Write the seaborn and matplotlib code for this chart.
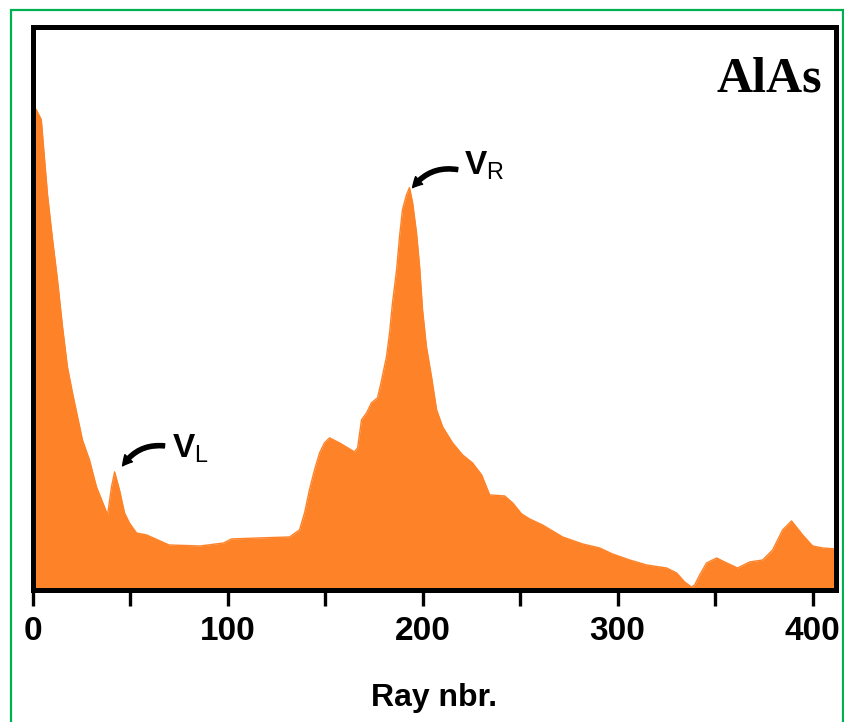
import matplotlib
matplotlib.use("Agg")
import matplotlib.pyplot as plt
import matplotlib.patches as mpatches
import seaborn as sns
import pandas as pd

# ---- data ----
ray = [0, 1.9, 4.5, 6.2, 7.7, 10.3, 12.8, 15.4, 17.9, 20.5, 23.1, 25.6, 29.2, 32.8,
       36.9, 38.5, 40.5, 42.1, 44.6, 47.2, 49.7, 53.3, 58.5, 70, 86, 98, 102, 116,
       131.8, 136.9, 139.5, 142, 144.6, 147.2, 149.7, 152.3, 157.4, 165.1, 166.7,
       168.7, 171.3, 173.8, 176.9, 178.7, 181.5, 183.1, 184.6, 186.7, 188.2, 189.7,
       191.8, 193.3, 194.9, 196.9, 198.5, 200, 202, 204.6, 207.2, 210.3, 215.4,
       220.5, 225.6, 230.3, 234.4, 242.1, 246.2, 250.8, 254.9, 261.5, 271.8, 282.1,
       290.8, 297.4, 306.2, 314.9, 325.1, 330.3, 334.4, 337.9, 339.5, 342.1, 345.6,
       350.8, 354.9, 361.5, 367.7, 374.4, 379.5, 384.6, 389.2, 394.9, 400, 405.1, 412]
intensity = [482, 480, 470, 430, 395, 350, 310, 263, 223, 197, 173, 150, 130, 103,
             83, 75, 103, 118, 100, 77, 67, 57, 55, 45, 44, 47, 51, 52,
             53, 60, 77, 100, 120, 137, 147, 152, 147, 138, 142,
             170, 177, 187, 192, 207, 233, 257, 287, 320, 353, 380,
             395, 402, 387, 357, 323, 280, 243, 213, 180, 163, 147,
             135, 127, 115, 95, 94, 87, 76, 71, 65, 53, 46,
             42, 36, 30, 25, 22, 17, 8, 3, 5, 15, 27,
             32, 28, 22, 28, 30, 40, 60, 69, 55, 44, 42, 41]
tick_values = [0, 50, 100, 150, 200, 250, 300, 350, 400]
tick_labels = ["0", "", "100", "", "200", "", "300", "", "400"]
x_label = "Ray nbr."
title_text = "AlAs"
peak_labels = [r"$\mathbf{V}_{\mathrm{L}}$", r"$\mathbf{V}_{\mathrm{R}}$"]
peak_text_pos = [(71.3, 133), (221.5, 415)]
arrow_tails = [(67.7, 144), (218.0, 420)]
arrow_tips = [(46.2, 124), (194.9, 402)]

df = pd.DataFrame({"ray": ray, "intensity": intensity})

sns.set_style("white")
plt.rcParams["font.family"] = ["Liberation Sans", "DejaVu Sans"]
plt.rcParams["mathtext.fontset"] = "custom"
plt.rcParams["mathtext.rm"] = "Liberation Sans"
plt.rcParams["mathtext.bf"] = "Liberation Sans:bold"
plt.rcParams["text.color"] = "black"
plt.rcParams["axes.labelcolor"] = "black"
plt.rcParams["xtick.color"] = "black"

orange = "#FD8228"

fig = plt.figure(figsize=(8.45, 7.22), dpi=100)
ax = fig.add_axes([32.5 / 845, 132 / 722, (836 - 32.5) / 845, (590 - 27.5) / 722])

ax.fill_between(df["ray"], 0, df["intensity"], color=orange, linewidth=0)
sns.lineplot(data=df, x="ray", y="intensity", ax=ax, color=orange, linewidth=1)

ax.set_xlim(0, 412)
ax.set_ylim(0, 562)
ax.set_yticks([])
ax.set_xticks(tick_values)
ax.set_xticklabels(tick_labels, fontsize=24, fontweight="bold", color="black")
ax.tick_params(axis="x", direction="out", length=11.5, width=2.4, color="black",
               labelcolor="black", pad=7, bottom=True)
for s in ax.spines.values():
    s.set_visible(True)
    s.set_linewidth(3.6)
    s.set_color("black")
ax.set_xlabel(x_label, fontsize=23, fontweight="bold", labelpad=26, color="black")
ax.set_ylabel("")

ax.text(0.983, 0.886, title_text, transform=ax.transAxes, ha="right", va="baseline",
        fontsize=36, fontweight="bold", color="black",
        family=["Liberation Serif", "DejaVu Serif"])

for lab, tp, tail, tip in zip(peak_labels, peak_text_pos, arrow_tails, arrow_tips):
    ax.text(tp[0], tp[1], lab, fontsize=24, ha="left", va="baseline", color="black")
    ax.annotate("", xy=tip, xytext=tail,
                arrowprops=dict(arrowstyle="simple,head_length=0.7,head_width=0.75,tail_width=0.3",
                                connectionstyle="arc3,rad=0.3", color="black",
                                shrinkA=0, shrinkB=0))

# green frame around the figure
fig.patches.append(mpatches.Rectangle((11 / 845, -0.05), (843 - 11) / 845, 712 / 722 + 0.05,
                                      transform=fig.transFigure, fill=False,
                                      edgecolor="#00B050", linewidth=1.6, zorder=0))

fig.savefig("out.png", dpi=100)
